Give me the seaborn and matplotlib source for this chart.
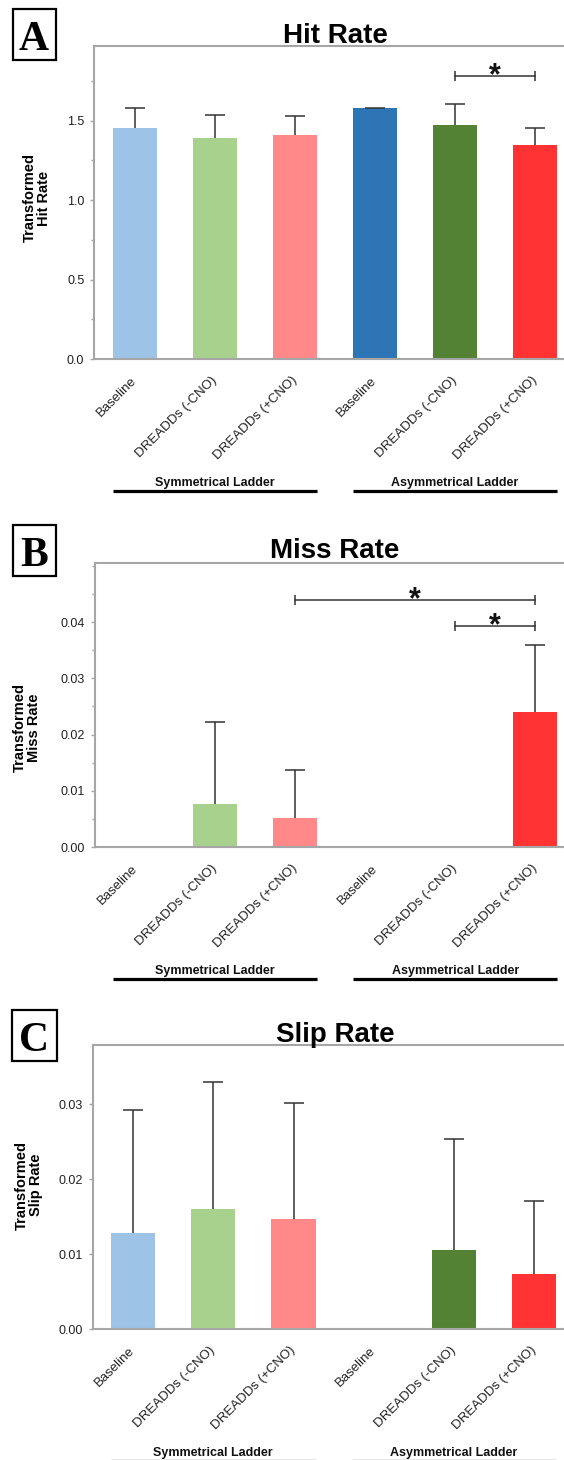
import matplotlib
matplotlib.use("Agg")
import matplotlib.pyplot as plt
import matplotlib.ticker as mticker
from matplotlib.transforms import offset_copy
import seaborn as sns
import pandas as pd
import numpy as np

# conditions (unique keys) and the labels shown under the bars
conditions = ["sym_base", "sym_minus", "sym_plus", "asym_base", "asym_minus", "asym_plus"]
tick_labels = ["Baseline", "DREADDs (-CNO)", "DREADDs (+CNO)",
               "Baseline", "DREADDs (-CNO)", "DREADDs (+CNO)"]
colors = ["#9DC3E6", "#A9D18E", "#FF8888", "#2E75B6", "#548235", "#FF3333"]
groups = ["Symmetrical Ladder", "Asymmetrical Ladder"]

# panel A - hit rate (mean, upper error)
hit_mean = [1.454, 1.393, 1.407, 1.577, 1.474, 1.344]
hit_err = [0.123, 0.140, 0.122, 0.002, 0.128, 0.110]
# panel B - miss rate
miss_mean = [0.0, 0.0077, 0.0052, 0.0, 0.0, 0.0240]
miss_err = [np.nan, 0.0145, 0.0085, np.nan, np.nan, 0.0119]
# panel C - slip rate
slip_mean = [0.0128, 0.0160, 0.0147, 0.0, 0.0106, 0.0073]
slip_err = [0.0164, 0.0170, 0.0154, np.nan, 0.0147, 0.0098]

# significance brackets: (from, to, height)
hit_sig = [(4, 5, 1.783)]
miss_sig = [(2, 5, 0.0440), (4, 5, 0.0393)]
slip_sig = []

W, H = 564, 1460
fig = plt.figure(figsize=(W / 100, H / 100), dpi=100)
plt.rcParams['font.family'] = ['Liberation Sans', 'DejaVu Sans']

SPINE = "#A6A6A6"
ERR = "#333333"


def px_axes(left, top, bottom, right=W):
    return fig.add_axes([left / W, (H - bottom) / H, (right - left) / W, (bottom - top) / H])


def panel(ax, means, errs, ylim, yticks, fmt, minor, title, ylab, letter, sig,
          title_y, ylab_xy, box, xlim=(-0.51, 5.36)):
    df = pd.DataFrame({"cond": conditions, "val": means})
    sns.barplot(data=df, x="cond", y="val", hue="cond", palette=colors,
                order=conditions, hue_order=conditions, width=0.55,
                saturation=1, errorbar=None, legend=False, linewidth=0, ax=ax)
    # upper-only error bars
    idx = [i for i, e in enumerate(errs) if not np.isnan(e)]
    lo = [means[i] for i in idx]
    hi = [means[i] + errs[i] for i in idx]
    ax.vlines(idx, lo, hi, color=ERR, lw=1.1, zorder=3)
    ax.plot(idx, hi, ls="none", marker="_", markersize=14.5,
            markeredgewidth=1.1, color=ERR, zorder=3)

    ax.set_xlim(*xlim)
    ax.set_ylim(*ylim)
    ax.set_yticks(yticks)
    ax.yaxis.set_major_formatter(mticker.FormatStrFormatter(fmt))
    if minor:
        ax.yaxis.set_minor_locator(mticker.MultipleLocator(minor))
    ax.set_xticks(range(6))
    ax.set_xticklabels(tick_labels, rotation=45, ha="right", va="center",
                       rotation_mode="anchor", fontsize=9.5, color="#222222")
    ax.tick_params(axis="x", length=0, pad=14)
    ax.tick_params(axis="y", which="major", length=3, width=1, color=SPINE,
                   labelsize=9, labelcolor="#222222", pad=4)
    ax.tick_params(axis="y", which="minor", length=2, width=1, color=SPINE)
    ax.set_xlabel("")
    ax.set_ylabel("")
    for s in ["left", "bottom", "top"]:
        ax.spines[s].set_color(SPINE)
        ax.spines[s].set_linewidth(1.5)
    ax.spines["right"].set_visible(False)

    # significance brackets
    for a, b, y in sig:
        ax.plot([a, b], [y, y], color=ERR, lw=1.1, marker="|",
                markersize=7.5, markeredgewidth=1.1, zorder=4)
        ax.annotate("*", xy=((a + b) / 2, y), xytext=(0, -6),
                    textcoords="offset points", ha="center", va="baseline",
                    fontsize=22, fontweight="bold", color="#111111")

    # group labels under the axis
    for gi, name in enumerate(groups):
        x0, x1 = 3 * gi - 0.275, 3 * gi + 2.275
        ax.annotate(name, xy=((x0 + x1) / 2, 0), xycoords=("data", "axes fraction"),
                    xytext=(0, -124 * 0.72), textcoords="offset points",
                    ha="center", va="center", fontsize=9, fontweight="bold",
                    color="#111111", annotation_clip=False)
        tr = offset_copy(ax.get_xaxis_transform(), fig=fig, y=-132 * 0.72, units="points")
        ax.plot([x0, x1], [0, 0], transform=tr, color="black", lw=2.3,
                clip_on=False, solid_capstyle="butt")

    fig.text(335 / W, 1 - title_y / H, title, ha="center", va="baseline",
             fontsize=20, fontweight="bold", color="black")
    fig.text(ylab_xy[0] / W, 1 - ylab_xy[1] / H, ylab, rotation=90, ha="center",
             va="center", fontsize=10.5, fontweight="bold", linespacing=1.0,
             multialignment="center")
    bx0, by0, bx1, by1 = box
    fig.add_artist(plt.Rectangle((bx0 / W, 1 - by1 / H), (bx1 - bx0) / W, (by1 - by0) / H,
                                 transform=fig.transFigure, fill=False, lw=1.6,
                                 ec="black"))
    fig.text((bx0 + bx1) / 2 / W, 1 - (by1 - 10) / H, letter, ha="center",
             va="baseline", fontsize=30, fontweight="bold",
             family=["Liberation Serif", "DejaVu Serif"])


axA = px_axes(94, 46, 359)
panel(axA, hit_mean, hit_err, (0, 1.97), [0.0, 0.5, 1.0, 1.5], "%.1f", 0.25,
      "Hit Rate", "Transformed\nHit Rate", "A", hit_sig, 43, (36.5, 198),
      (12.7, 9.3, 55.5, 60))

axB = px_axes(94.5, 563, 847)
panel(axB, miss_mean, miss_err, (0, 0.0505), [0.0, 0.01, 0.02, 0.03, 0.04], "%.2f",
      0.005, "Miss Rate", "Transformed\nMiss Rate", "B", miss_sig, 558, (27, 728),
      (12.6, 525, 55.8, 576))

axC = px_axes(92.5, 1045, 1329)
panel(axC, slip_mean, slip_err, (0, 0.0379), [0.0, 0.01, 0.02, 0.03], "%.2f",
      None, "Slip Rate", "Transformed\nSlip Rate", "C", slip_sig, 1042, (29, 1185),
      (11.9, 1010, 56.5, 1061), xlim=(-0.505, 5.37))

fig.savefig("out.png", dpi=100)
